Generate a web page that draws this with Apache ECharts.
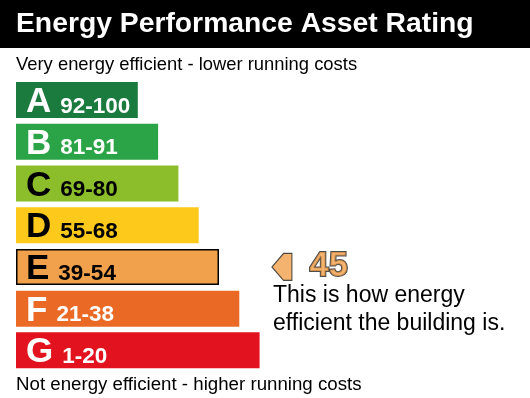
<!DOCTYPE html>
<html>
<head>
<meta charset="utf-8">
<script src="https://cdn.jsdelivr.net/npm/echarts@6/dist/echarts.min.js"></script>
<style>
  html, body { margin: 0; padding: 0; background: #fff; }
  #chart { width: 530px; height: 398px; }
</style>
</head>
<body>
<div id="chart"></div>
<script>
// =====================
// Data
// =====================
const BANDS = ["A", "B", "C", "D", "E", "F", "G"]
const RANGES = ["92-100", "81-91", "69-80", "55-68", "39-54", "21-38", "1-20"]
const BAR_LENGTH = [6, 7, 8, 9, 10, 11, 12]      // bar grows one step per band
const COLORS = ["#1b7a3d", "#2ba447", "#8cbd2b", "#fdc91b", "#f1a04b", "#ea6a25", "#e2131f"]
const TEXT_COLORS = ["#fff", "#fff", "#000", "#000", "#000", "#fff", "#fff"]

const RATING = 45
const RATING_BAND = "E"
const POINTER_X = 13.1

const FONT = "'Liberation Sans', Arial, sans-serif"

const chart = echarts.init(document.getElementById("chart"))

const rich = {}
BANDS.forEach((b, i) => {
  rich["l" + i] = {
    fontSize: 35, fontWeight: "bold", color: TEXT_COLORS[i],
    fontFamily: FONT, verticalAlign: "bottom", lineHeight: 36
  }
  rich["r" + i] = {
    fontSize: 22.5, fontWeight: "bold", color: TEXT_COLORS[i],
    fontFamily: FONT, verticalAlign: "bottom", lineHeight: 36,
    padding: [0, 0, 2, 9]
  }
})

const option = {
  animation: false,
  backgroundColor: "#fff",

  graphic: [{
    type: "rect",
    left: 0, top: 0,
    shape: { width: 530, height: 48 },
    style: { fill: "#000" },
    z: -1
  }],

  title: [
    {
      text: "Energy Performance Asset Rating",
      left: 11, top: 5,
      textStyle: { color: "#fff", fontSize: 28.3, fontWeight: "bold", fontFamily: FONT }
    },
    {
      text: "Very energy efficient - lower running costs",
      left: 11, top: 51,
      textStyle: { color: "#000", fontSize: 18.4, fontWeight: "normal", fontFamily: FONT }
    },
    {
      text: "Not energy efficient - higher running costs",
      left: 11, top: 370,
      textStyle: { color: "#000", fontSize: 18.7, fontWeight: "normal", fontFamily: FONT }
    },
    {
      text: "This is how energy\nefficient the building is.",
      left: 268, top: 277,
      textStyle: { color: "#000", fontSize: 23, fontWeight: "normal", fontFamily: FONT, lineHeight: 28 }
    }
  ],

  grid: { left: 16, right: 6.5, top: 79.2, height: 292, containLabel: false },

  xAxis: {
    type: "value", min: 0, max: 25,
    show: false
  },

  yAxis: {
    type: "category",
    data: BANDS,
    inverse: true,
    show: false
  },

  series: [
    {
      type: "bar",
      barWidth: 36,
      data: BAR_LENGTH.map((v, i) => ({
        value: v,
        itemStyle: {
          color: COLORS[i],
          borderColor: BANDS[i] === RATING_BAND ? "#000" : COLORS[i],
          borderWidth: BANDS[i] === RATING_BAND ? 1.5 : 0
        },
        label: {
          show: true,
          position: "insideLeft",
          distance: 10,
          offset: [0, 2],
          formatter: `{l${i}|${BANDS[i]}}{r${i}|${RANGES[i]}}`,
          rich: rich
        }
      }))
    },
    {
      type: "scatter",
      clip: false,
      symbol: "path://M0,13 L11,0 L19,0 L19,26 L11,26 Z",
      symbolSize: [20, 27],
      itemStyle: { color: COLORS[BANDS.indexOf(RATING_BAND)], borderColor: "#222", borderWidth: 1.2 },
      data: [[POINTER_X, RATING_BAND]],
      label: {
        show: true,
        position: "right",
        distance: 17,
        offset: [0, 0],
        formatter: String(RATING),
        fontSize: 34.5,
        fontWeight: "bold",
        fontFamily: FONT,
        color: COLORS[BANDS.indexOf(RATING_BAND)],
        textBorderColor: "#222",
        textBorderWidth: 2
      }
    }
  ]
}

chart.setOption(option)
</script>
</body>
</html>
